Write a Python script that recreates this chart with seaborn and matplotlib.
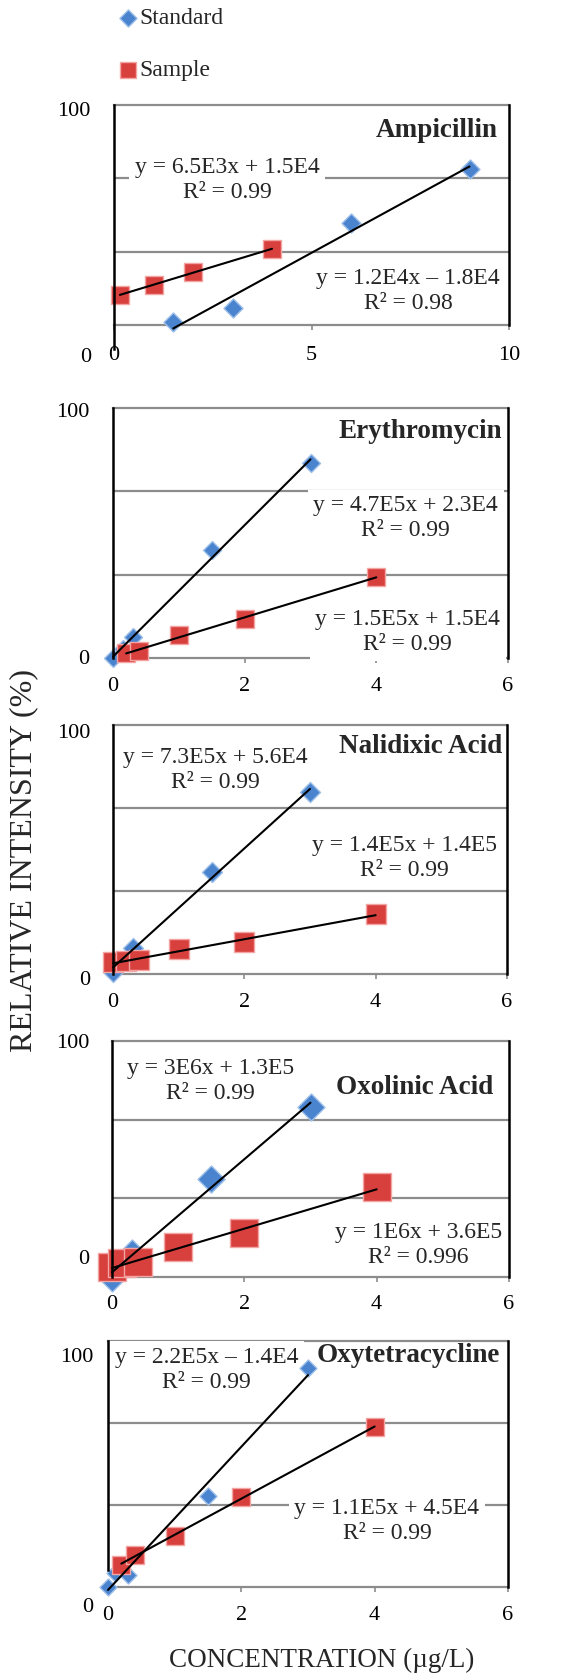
import numpy as np
import pandas as pd
import matplotlib
matplotlib.use("Agg")
import matplotlib.pyplot as plt
import seaborn as sns
from matplotlib.transforms import ScaledTranslation

sns.set_theme(style="white")
plt.rcParams["font.family"] = ["Liberation Serif", "DejaVu Serif"]

# ---------------- data ----------------
drug_names = ["Ampicillin", "Erythromycin", "Nalidixic Acid", "Oxolinic Acid", "Oxytetracycline"]

amp_std_x = [1.5, 3, 6, 9]
amp_std_y = [1.4, 7.6, 46.4, 70.9]
amp_smp_x = [0.15, 1, 2, 4]
amp_smp_y = [13.6, 18.2, 24.1, 34.5]

ery_std_x = [0, 0.15, 0.3, 1.5, 3]
ery_std_y = [0, 3.5, 8.4, 43, 78]
ery_smp_x = [0.2, 0.4, 1, 2, 4]
ery_smp_y = [2, 2.8, 9.2, 15.6, 32.4]

nal_std_x = [0, 0.3, 1.5, 3]
nal_std_y = [0.8, 10.4, 41, 73]
nal_smp_x = [0, 0.2, 0.4, 1, 2, 4]
nal_smp_y = [4.8, 5.2, 5.6, 10, 12.9, 24]

oxo_std_x = [0, 0.3, 1.5, 3]
oxo_std_y = [-0.5, 10, 41.5, 72]
oxo_smp_x = [0, 0.15, 0.4, 1, 2, 4]
oxo_smp_y = [4.2, 5.9, 6.4, 12.7, 18.6, 38]

oxy_std_x = [0, 0.1, 0.3, 1.5, 3]
oxy_std_y = [0, 5.7, 4.9, 37, 89]
oxy_smp_x = [0.2, 0.4, 1, 2, 4]
oxy_smp_y = [9, 13, 20.7, 36.6, 65]

std_equations = ["y = 1.2E4x \u2013 1.8E4\nR\u00b2 = 0.98",
                 "y = 4.7E5x + 2.3E4\nR\u00b2 = 0.99",
                 "y = 7.3E5x + 5.6E4\nR\u00b2 = 0.99",
                 "y = 3E6x + 1.3E5\nR\u00b2 = 0.99",
                 "y = 2.2E5x \u2013 1.4E4\nR\u00b2 = 0.99"]
smp_equations = ["y = 6.5E3x + 1.5E4\nR\u00b2 = 0.99",
                 "y = 1.5E5x + 1.5E4\nR\u00b2 = 0.99",
                 "y = 1.4E5x + 1.4E5\nR\u00b2 = 0.99",
                 "y = 1E6x + 3.6E5\nR\u00b2 = 0.996",
                 "y = 1.1E5x + 4.5E4\nR\u00b2 = 0.99"]

x_ticks = [[0, 5, 10], [0, 2, 4, 6], [0, 2, 4, 6], [0, 2, 4, 6], [0, 2, 4, 6]]
x_tick_labels = [["0", "5", "10"], ["0", "2", "4", "6"], ["0", "2", "4", "6"],
                 ["0", "2", "4", "6"], ["0", "2", "4", "6"]]
y_tick_values = [0, 100]
y_tick_labels = ["0", "100"]
y_grid_values = [100 / 3, 200 / 3]

series_label_std = "Standard"
series_label_smp = "Sample"
x_title = "CONCENTRATION (\u00b5g/L)"
y_title = "RELATIVE INTENSITY (%)"

std_xs = [amp_std_x, ery_std_x, nal_std_x, oxo_std_x, oxy_std_x]
std_ys = [amp_std_y, ery_std_y, nal_std_y, oxo_std_y, oxy_std_y]
smp_xs = [amp_smp_x, ery_smp_x, nal_smp_x, oxo_smp_x, oxy_smp_x]
smp_ys = [amp_smp_y, ery_smp_y, nal_smp_y, oxo_smp_y, oxy_smp_y]

# ---------------- layout / style ----------------
W, H = 571, 1680
# axes boxes in pixels: left, right, top, bottom
boxes = [(114, 509, 105, 325), (113, 508, 408, 658), (113, 507, 725, 974),
         (112, 509, 1041, 1277), (108, 508, 1341, 1587)]
xmax = [10, 6, 6, 6, 6]
# marker sizes (points^2): diamond, square
sizes = [(94, 150), (84, 168), (104, 207), (189, 378), (75, 168)]
# y label offsets in px (dx, dy) for "0" and "100"
ylab_off = [((-23, -33), (-24, -7)), ((-24, -2), (-24, -5)), ((-23, -6), (-23, -8)),
            ((-23, 17), (-23, -2)), ((-15, -20), (-15, -17))]
xpad = [11.5, 10, 10, 9.5, 10]
# text positions in axes fraction: std eq (x, y, ha), smp eq (x, y, ha), title (x, y)
std_pos = [(0.977, 0.155, "right"), (0.975, 0.558, "right"), (0.259, 0.819, "center"),
           (0.249, 0.831, "center"), (0.0175, 0.882, "left")]
smp_pos = [(0.286, 0.659, "center"), (0.980, 0.104, "right"), (0.975, 0.466, "right"),
           (0.982, 0.136, "right"), (0.6975, 0.268, "center")]
title_pos = [(0.970, 0.886), (0.985, 0.904), (0.987, 0.912), (0.960, 0.805), (0.98, 0.943)]
left_bounds = [(-11, 100), None, None, None, (7, 100)]

blue, blue_edge = "#4a84cf", "#9dbfe8"
red, red_edge = "#d8403e", "#f2a5a3"
grid_c = "#8c8c8c"

fig = plt.figure(figsize=(W / 100, H / 100), dpi=100)
axes = []
for i in range(5):
    L, R, T, B = boxes[i]
    ax = fig.add_axes([L / W, 1 - B / H, (R - L) / W, (B - T) / H])
    axes.append(ax)
    df_std = pd.DataFrame({"x": std_xs[i], "y": std_ys[i]})
    df_smp = pd.DataFrame({"x": smp_xs[i], "y": smp_ys[i]})
    sns.scatterplot(data=df_std, x="x", y="y", ax=ax, marker="D", s=sizes[i][0],
                    color=blue, edgecolor=blue_edge, linewidth=1.0, zorder=4,
                    clip_on=False, label=series_label_std if i == 0 else None, legend=False)
    sns.scatterplot(data=df_smp, x="x", y="y", ax=ax, marker="s", s=sizes[i][1],
                    color=red, edgecolor=red_edge, linewidth=1.0, zorder=4.1,
                    clip_on=False, label=series_label_smp if i == 0 else None, legend=False)
    for df in (df_std, df_smp):
        sns.regplot(data=df, x="x", y="y", ax=ax, scatter=False, ci=None, truncate=True,
                    color="black", line_kws=dict(lw=1.5, zorder=5, clip_on=False))
    ax.set_xlabel("")
    ax.set_ylabel("")
    ax.set_xlim(0, xmax[i])
    ax.set_ylim(0, 100)
    ax.set_xticks(x_ticks[i])
    ax.set_xticklabels(x_tick_labels[i])
    ax.set_yticks(y_tick_values)
    ax.set_yticklabels([])
    ax.set_yticks(y_grid_values, minor=True)
    ax.yaxis.grid(True, which="minor", color=grid_c, lw=1.6)
    ax.tick_params(axis="y", which="both", left=False, length=0)
    ax.tick_params(axis="x", bottom=True, length=3.6, width=1.2, color=grid_c,
                   pad=xpad[i], labelsize=16, labelcolor="black")
    for s in ("top", "bottom"):
        ax.spines[s].set_color(grid_c)
        ax.spines[s].set_linewidth(1.6)
    for s in ("left", "right"):
        ax.spines[s].set_color("black")
        ax.spines[s].set_linewidth(1.8)
        ax.spines[s].set_zorder(6)
    if left_bounds[i] is not None:
        ax.spines["left"].set_bounds(*left_bounds[i])

    # y tick labels (0, 100) placed individually
    for val, lab, (dx, dy) in zip(y_tick_values, y_tick_labels, ylab_off[i]):
        tr = ax.get_yaxis_transform() + ScaledTranslation(dx / 100, dy / 100, fig.dpi_scale_trans)
        ax.text(0, val, lab, transform=tr, ha="right", va="center", fontsize=16,
                color="black", clip_on=False)

    box = dict(facecolor="white", edgecolor="none", pad=4)
    x, y, ha = std_pos[i]
    ax.text(x, y, std_equations[i], transform=ax.transAxes, ha=ha, va="center",
            multialignment="center", fontsize=17, linespacing=1.25, bbox=box, zorder=3)
    x, y, ha = smp_pos[i]
    ax.text(x, y, smp_equations[i], transform=ax.transAxes, ha=ha, va="center",
            multialignment="center", fontsize=17, linespacing=1.25, bbox=box, zorder=3)
    x, y = title_pos[i]
    ax.text(x, y, drug_names[i], transform=ax.transAxes, ha="right", va="center",
            fontsize=19.5, fontweight="bold", zorder=3)

handles, labels = axes[0].get_legend_handles_labels()
fig.legend(handles, labels, loc="upper left", bbox_to_anchor=(117 / W, 1 - 5 / H),
           frameon=False, fontsize=17, handlelength=0.7, handletextpad=0.15,
           labelspacing=1.3, borderaxespad=0, borderpad=0.1, markerscale=0.9)

axes[4].set_xlabel(x_title, fontsize=19.5, va="center")
axes[4].xaxis.set_label_coords(0.535, -0.297)
fig.text(24 / W, 1 - 861 / H, y_title, rotation=90, ha="center", va="center", fontsize=23)

fig.savefig("out.png", dpi=100, facecolor="white")
